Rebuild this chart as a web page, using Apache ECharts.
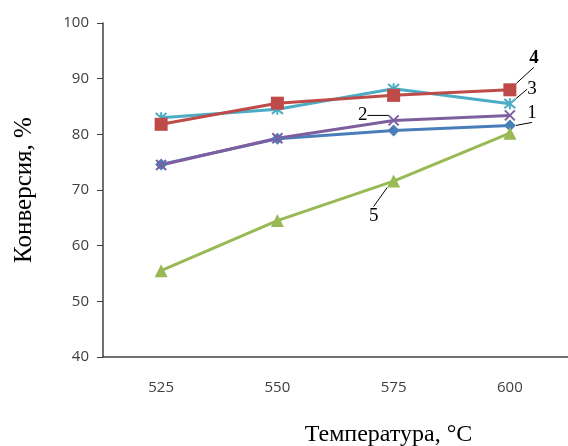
<!DOCTYPE html>
<html lang="ru">
<head>
<meta charset="UTF-8">
<title>Конверсия</title>
<script src="https://cdn.jsdelivr.net/npm/echarts@6/dist/echarts.min.js"></script>
</head>
<body style="margin:0;background:#fff">
<div id="main" style="width:568px;height:446px;"></div>
<script>
// температура, °C
var temps = ['525', '550', '575', '600'];
// конверсия, % (кривые 1..5)
var conv1 = [74.6, 79.2, 80.7, 81.6];
var conv2 = [74.5, 79.3, 82.5, 83.4];
var conv3 = [83.0, 84.5, 88.2, 85.5];
var conv4 = [81.8, 85.6, 87.0, 88.0];
var conv5 = [55.5, 64.5, 71.6, 80.2];
var curveNames = ['1', '2', '3', '4', '5'];
// у какой точки подписан номер кривой
var tagAt = [3, 2, 3, 3, 2];

var xMark = 'path://M0,0L10,10M10,0L0,10';
var starMark = 'path://M0,0L10,10M10,0L0,10M5,-1L5,11';

// сдвиг подписи номера от точки
var tagShift = [[22, 8], [-31, 17], [22, 8], [24, -11], [-20, 56]];

function curve(i, values, color, symbol, size, hollow) {
  var data = values.map(function (v, k) {
    if (k !== tagAt[i]) return v;
    return {
      value: v,
      label: {
        show: true,
        formatter: curveNames[i],
        fontFamily: 'Liberation Serif',
        fontSize: 19,
        fontWeight: i === 3 ? 'bold' : 'normal',
        color: '#000'
      }
    };
  });
  return {
    name: curveNames[i],
    type: 'line',
    data: data,
    symbol: symbol,
    symbolSize: size,
    lineStyle: { color: color, width: 3 },
    itemStyle: hollow
      ? { color: 'none', borderColor: color, borderWidth: 2 }
      : { color: color },
    labelLine: { show: true, length2: 0, lineStyle: { color: '#000', width: 1 } },
    labelLayout: function () {
      return { dx: tagShift[i][0], dy: tagShift[i][1] };
    }
  };
}

var axisText = { fontFamily: 'Open Sans', fontSize: 15, color: '#404040' };

var option = {
  backgroundColor: '#fff',
  animation: false,
  grid: { left: 103, right: 0, top: 23, bottom: 89, outerBoundsMode: 'none' },
  xAxis: {
    type: 'category',
    data: temps,
    boundaryGap: true,
    name: 'Температура, °C',
    nameLocation: 'middle',
    nameGap: 66,
    nameTextStyle: { fontFamily: 'Liberation Serif', fontSize: 24, color: '#000', padding: [0, 0, 0, 106] },
    axisLine: { lineStyle: { color: '#404040', width: 1.5 } },
    axisTick: { alignWithLabel: true, inside: true, length: 4, lineStyle: { color: '#404040' } },
    axisLabel: Object.assign({ margin: 23 }, axisText),
    splitLine: { show: false }
  },
  yAxis: {
    type: 'value',
    min: 40,
    max: 100,
    interval: 10,
    name: 'Конверсия, %',
    nameLocation: 'middle',
    nameRotate: 90,
    nameGap: 66,
    nameTextStyle: { fontFamily: 'Liberation Serif', fontSize: 25, color: '#000' },
    axisLine: { show: true, lineStyle: { color: '#404040', width: 1.5 } },
    axisTick: { show: true, length: 6, lineStyle: { color: '#404040' } },
    axisLabel: Object.assign({ margin: 14 }, axisText),
    splitLine: { show: false }
  },
  series: [
    curve(0, conv1, '#4a7ebb', 'diamond', 12),
    curve(1, conv2, '#7d5fa0', xMark, 10, true),
    curve(2, conv3, '#4bacc6', starMark, 11, true),
    curve(3, conv4, '#be4b48', 'rect', 13),
    curve(4, conv5, '#98b954', 'triangle', 13)
  ]
};

var chart = echarts.init(document.getElementById('main'));
chart.setOption(option);
</script>
</body>
</html>
